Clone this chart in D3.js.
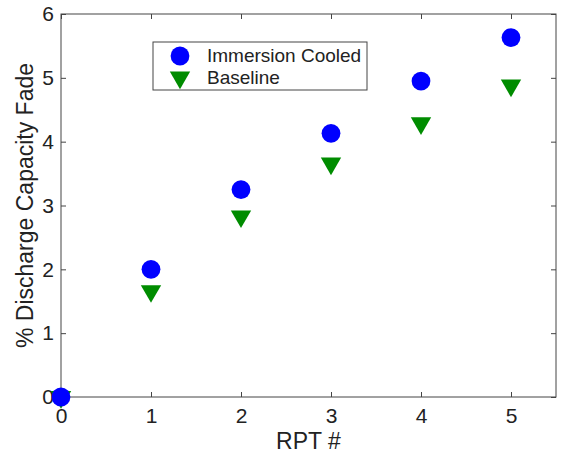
<!DOCTYPE html>
<html>
<head>
<meta charset="utf-8">
<script src="https://cdn.jsdelivr.net/npm/d3@7"></script>
<style>
  body { margin: 0; background: #fff; }
  svg { font-family: "Liberation Sans", Arial, sans-serif; }
</style>
</head>
<body>
<svg width="565" height="455"></svg>
<script>
var rpt = [0, 1, 2, 3, 4, 5];
var immersion = [0, 2.0, 3.25, 4.13, 4.95, 5.63];
var baseline = [0, 1.66, 2.83, 3.66, 4.29, 4.88];
var xTicks = [0, 1, 2, 3, 4, 5];
var yTicks = [0, 1, 2, 3, 4, 5, 6];

var svg = d3.select('svg');
// plot box edges (note: "top" is reserved on window, so use own names)
var plotLeft = 61, plotRight = 556, plotTop = 14, plotBottom = 397;
var axisColor = '#444';

var x = d3.scaleLinear().domain([0, 5.5]).range([plotLeft, plotRight]);
var y = d3.scaleLinear().domain([0, 6]).range([plotBottom, plotTop]);

// frame
svg.append('rect')
  .attr('x', plotLeft).attr('y', plotTop)
  .attr('width', plotRight - plotLeft).attr('height', plotBottom - plotTop)
  .attr('fill', 'none').attr('stroke', axisColor).attr('stroke-width', 1);

// bottom / left axes with inward ticks
var xAxis = svg.append('g')
  .attr('transform', 'translate(0,' + plotBottom + ')')
  .call(d3.axisBottom(x).tickValues(xTicks).tickSize(-5).tickPadding(11).tickFormat(d3.format('d')));
var yAxis = svg.append('g')
  .attr('transform', 'translate(' + plotLeft + ',0)')
  .call(d3.axisLeft(y).tickValues(yTicks).tickSize(-5).tickPadding(7).tickFormat(d3.format('d')));
// top / right ticks, no labels
svg.append('g')
  .attr('transform', 'translate(0,' + plotTop + ')')
  .call(d3.axisTop(x).tickValues(xTicks).tickSize(-5).tickFormat(''));
svg.append('g')
  .attr('transform', 'translate(' + plotRight + ',0)')
  .call(d3.axisRight(y).tickValues(yTicks).tickSize(-5).tickFormat(''));

svg.selectAll('.domain').remove();
svg.selectAll('.tick line').attr('stroke', axisColor);
svg.selectAll('.tick text').attr('fill', '#222').style('font-size', '21px');

// axis labels
svg.append('text')
  .attr('x', (plotLeft + plotRight) / 2).attr('y', 449)
  .attr('text-anchor', 'middle')
  .style('font-size', '23px').attr('fill', '#222')
  .text('RPT #');
svg.append('text')
  .attr('transform', 'translate(33,' + ((plotTop + plotBottom) / 2) + ') rotate(-90)')
  .attr('text-anchor', 'middle')
  .style('font-size', '23px').attr('fill', '#222')
  .text('% Discharge Capacity Fade');

var tri = d3.symbol().type(d3.symbolTriangle).size(180);

// baseline (down triangles)
svg.append('g').selectAll('path')
  .data(rpt)
  .enter()
  .append('path')
  .attr('d', tri)
  .attr('fill', '#008c00')
  .attr('transform', function(d, i) {
    return 'translate(' + x(d) + ',' + y(baseline[i]) + ') rotate(180)';
  });

// immersion cooled (circles)
svg.append('g').selectAll('circle')
  .data(rpt)
  .enter()
  .append('circle')
  .attr('cx', function(d) { return x(d); })
  .attr('cy', function(d, i) { return y(immersion[i]); })
  .attr('r', 9.4)
  .attr('fill', '#0000ff');

// legend
var lg = svg.append('g');
lg.append('rect')
  .attr('x', 153).attr('y', 42)
  .attr('width', 214).attr('height', 48)
  .attr('fill', '#fff').attr('stroke', axisColor).attr('stroke-width', 1);
lg.append('circle').attr('cx', 180).attr('cy', 56).attr('r', 9.4).attr('fill', '#0000ff');
lg.append('path').attr('d', tri).attr('fill', '#008c00')
  .attr('transform', 'translate(180,77.5) rotate(180)');
lg.append('text').attr('x', 207).attr('y', 62).style('font-size', '19px').attr('fill', '#222')
  .text('Immersion Cooled');
lg.append('text').attr('x', 207).attr('y', 84).style('font-size', '19px').attr('fill', '#222')
  .text('Baseline');
</script>
</body>
</html>
